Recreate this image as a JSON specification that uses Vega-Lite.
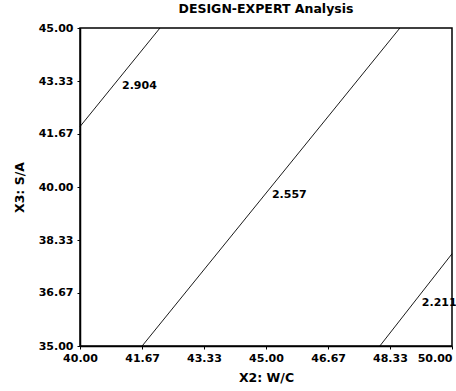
{
  "$schema": "https://vega.github.io/schema/vega-lite/v6.json",
  "width": 372,
  "height": 318,
  "autosize": {"type": "none"},
  "padding": {"left": 80, "top": 28, "right": 4, "bottom": 45},
  "background": "white",
  "title": {"text": "DESIGN-EXPERT Analysis", "font": "DejaVu Sans", "fontSize": 12.5, "fontWeight": "bold", "color": "black", "offset": 7, "anchor": "middle"},
  "config": {
    "view": {"stroke": "black", "strokeWidth": 1.5},
    "axis": {"grid": false, "domainColor": "black", "domainWidth": 1.5, "tickColor": "black", "tickSize": 3, "labelFont": "DejaVu Sans", "labelFontSize": 11, "labelFontWeight": "bold", "labelColor": "black", "labelFlush": false, "labelOverlap": false, "titleFont": "DejaVu Sans", "titleFontSize": 12.5, "titleFontWeight": "bold", "titleColor": "black", "format": ".2f"}
  },
  "datasets": {
    "lines": [
      {"contour": "2.904", "x": 40.0, "y": 41.9},
      {"contour": "2.904", "x": 42.15, "y": 45.0},
      {"contour": "2.557", "x": 41.67, "y": 35.0},
      {"contour": "2.557", "x": 48.6, "y": 45.0},
      {"contour": "2.211", "x": 48.06, "y": 35.0},
      {"contour": "2.211", "x": 50.0, "y": 37.9}
    ],
    "labels": [
      {"contour": "2.904", "x": 41.13, "y": 43.18},
      {"contour": "2.557", "x": 45.16, "y": 39.75},
      {"contour": "2.211", "x": 49.19, "y": 36.35}
    ]
  },
  "layer": [
    {
      "data": {"name": "lines"},
      "mark": {"type": "line", "color": "black", "strokeWidth": 0.9},
      "encoding": {
        "x": {"field": "x", "type": "quantitative", "scale": {"domain": [40, 50], "nice": false, "zero": false}, "axis": {"title": "X2: W/C", "values": [40, 41.67, 43.33, 45, 46.67, 48.33, 50], "titlePadding": 8, "labelPadding": 3, "labelAlign": {"expr": "datum.value >= 50 ? 'right' : 'center'"}}},
        "y": {"field": "y", "type": "quantitative", "scale": {"domain": [35, 45], "nice": false, "zero": false}, "axis": {"title": "X3: S/A", "values": [35, 36.67, 38.33, 40, 41.67, 43.33, 45], "titlePadding": 12, "labelPadding": 4}},
        "detail": {"field": "contour"}
      }
    },
    {
      "data": {"name": "labels"},
      "mark": {"type": "text", "align": "left", "baseline": "middle", "font": "DejaVu Sans", "fontSize": 11, "fontWeight": "bold", "color": "black"},
      "encoding": {
        "x": {"field": "x", "type": "quantitative"},
        "y": {"field": "y", "type": "quantitative"},
        "text": {"field": "contour"}
      }
    }
  ]
}
